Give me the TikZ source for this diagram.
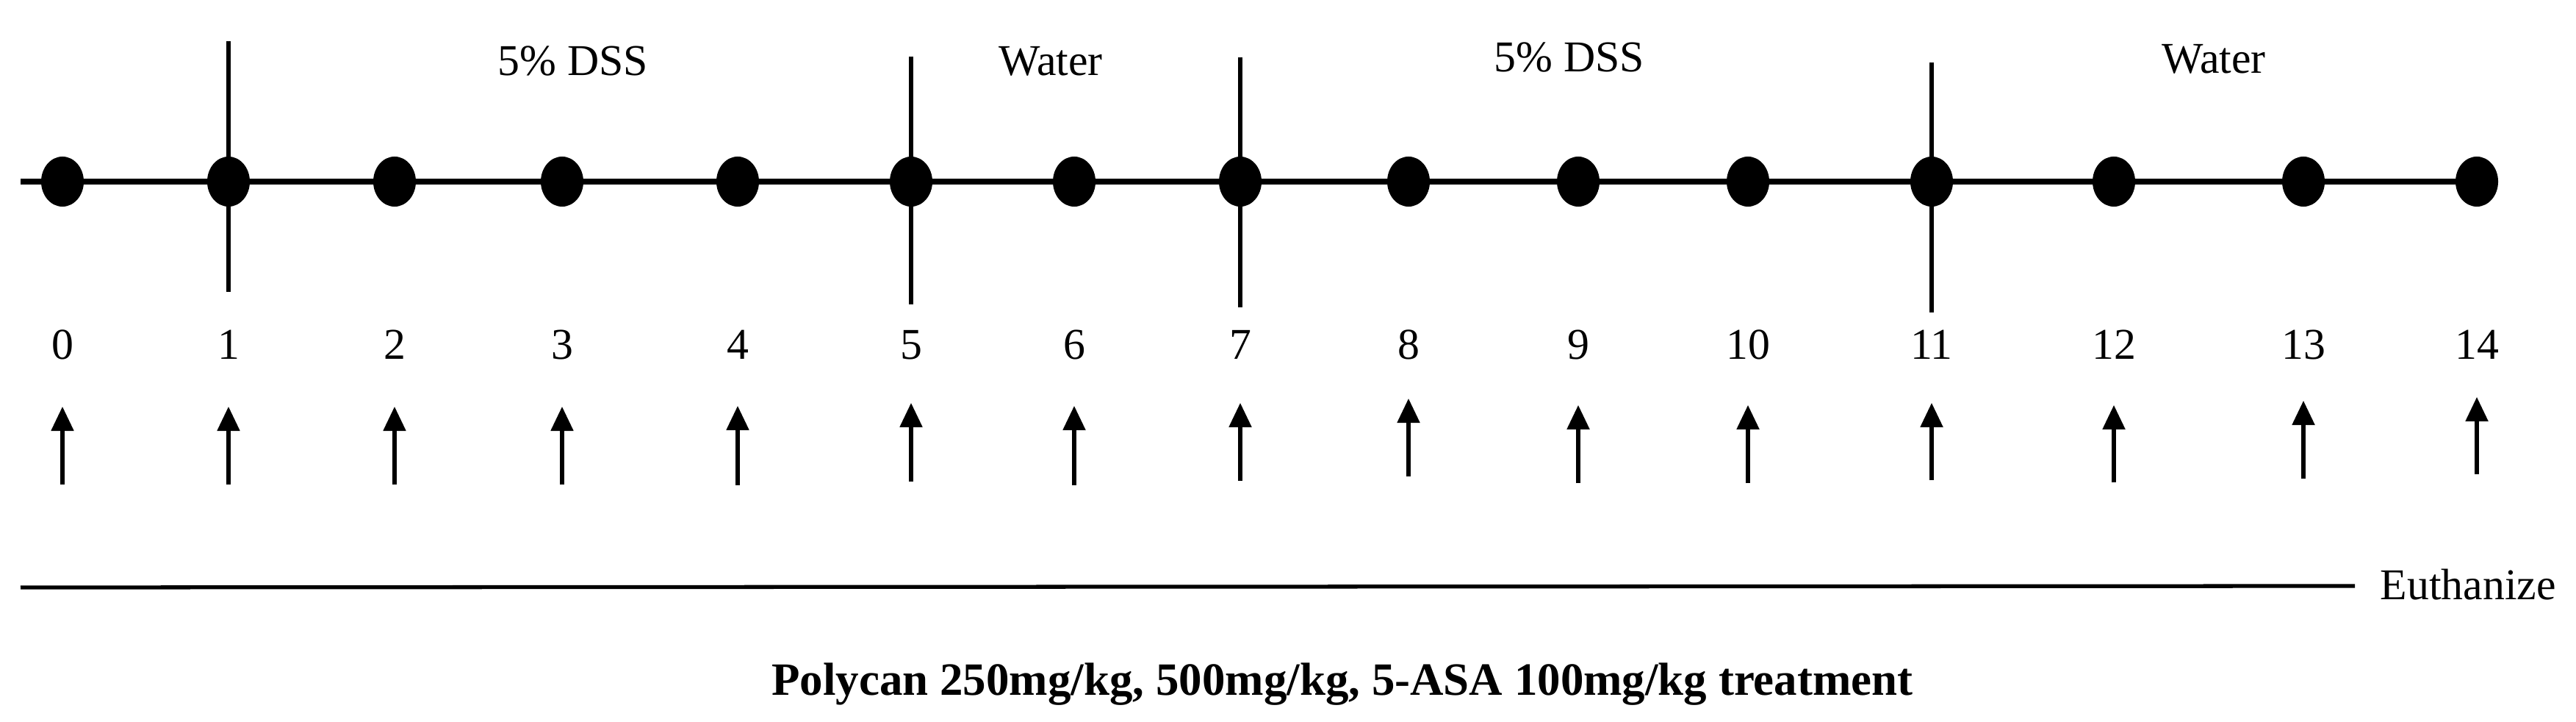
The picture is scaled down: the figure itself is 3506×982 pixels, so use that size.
\documentclass[tikz,border=0pt]{standalone}
\usepackage{fontspec}
\setmainfont{Liberation Serif}
\usetikzlibrary{arrows.meta,shapes.geometric}
\begin{document}
\begin{tikzpicture}[x=0.01cm,y=-0.01cm,
  dot/.style={ellipse,fill=black,draw=none,minimum width=0.58cm,minimum height=0.68cm,inner sep=0pt},
  mainline/.style={line width=2pt},
  tickline/.style={line width=1.45pt},
  treatline/.style={line width=1.5pt},
  uparrow/.style={line width=1.45pt,-{Triangle[width=0.30cm,length=0.33cm]}},
  txt/.style={inner sep=0pt,anchor=base,font=\fontsize{17}{20}\selectfont},
  boldtxt/.style={inner sep=0pt,anchor=base,font=\fontsize{17.9}{21}\selectfont\bfseries}]
\useasboundingbox (0,0) rectangle (3506,982);
% days
\foreach \i/\x/\ta/\tb in {0/85/553/659,1/311/553/659,2/537/553/659,3/765/553/659,4/1004/552/660,5/1240/548/655,6/1462/552/660,7/1688/548/654,8/1917/542/648,9/2148/551/657,10/2379/551/657,11/2629/548/653,12/2877/551/656,13/3135/545/651,14/3371/540/645}{
  \node[dot] (d\i) at (\x,247) {};
  \node[txt] (n\i) at (\x,488) {\i};
  \coordinate (at\i) at (\x,\ta);
  \coordinate (ab\i) at (\x,\tb);
  \draw[uparrow] (ab\i) -- (at\i);
}
\coordinate (start) at (28,247);
\draw[mainline] (start) -- (d14.center);
% phase boundaries
\foreach \i/\x/\t/\b in {1/311/56/397,5/1240/77/414,7/1688/78/418,11/2629/85/425}{
  \coordinate (vt\i) at (\x,\t);
  \coordinate (vb\i) at (\x,\b);
  \draw[tickline] (vt\i) -- (vb\i);
}
% phase labels
\node[txt] (p1) at (780,103) {5\% DSS};
\node[txt] (p2) at (1430,103) {Water};
\node[txt] (p3) at (2136,98) {5\% DSS};
\node[txt] (p4) at (3013,100) {Water};
% treatment line
\coordinate (ts) at (28,799);
\node[txt,anchor=base west] (eu) at (3239,815) {Euthanize};
\coordinate (te) at (3205,797);
\draw[treatline] (ts) -- (te);
\node[boldtxt] (tr) at (1827,945) {Polycan 250mg/kg, 500mg/kg, 5-ASA 100mg/kg treatment};
\end{tikzpicture}
\end{document}
